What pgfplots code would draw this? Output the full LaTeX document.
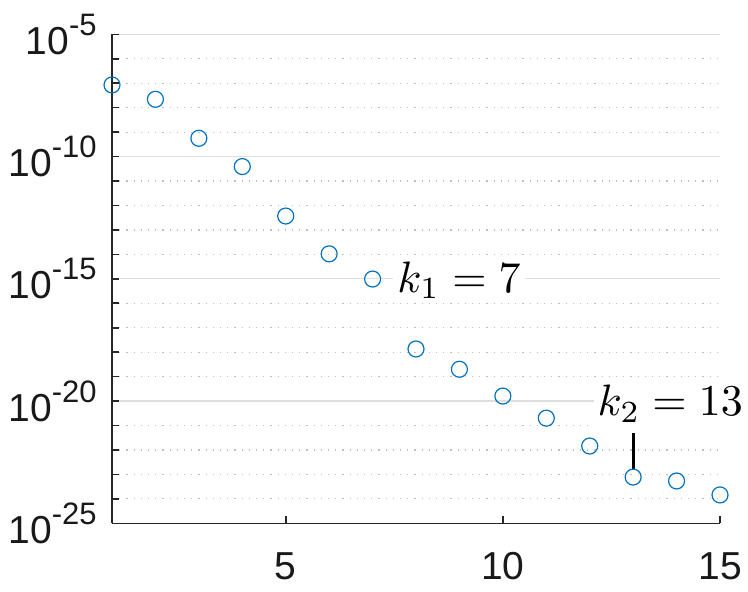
\documentclass[border=0pt]{standalone}
\usepackage{pgfplots}
\pgfplotsset{compat=1.18}
\usepackage{graphicx}
\usepackage{fontspec}
\newfontfamily\arial{Liberation Sans}
\definecolor{matblue}{RGB}{0,114,189}
% tick label with a raised exponent, set like the MATLAB labels
\newcommand\tl[1]{10\raisebox{9.5pt}{\fontsize{15.5}{16}\selectfont -#1}}
\begin{document}
\begin{tikzpicture}
\begin{axis}[
    scale only axis,
    width=304pt, height=244.5pt,
    ymode=log,
    xmin=1, xmax=15,
    ymin=1e-25, ymax=1e-5,
    axis lines*=left,
    axis line style={black!85, line width=0.8pt},
    tick align=inside,
    tick style={black!85, line width=0.8pt},
    major tick length=3.5pt, minor tick length=3.5pt,
    xtick={5,10,15}, xticklabels={5,10,15},
    ytick={1e-25,1e-20,1e-15,1e-10,1e-5},
    yticklabels={\tl{25},\tl{20},\tl{15},\tl{10},\tl{5}},
    minor ytick={1e-24,1e-23,1e-22,1e-21,1e-19,1e-18,1e-17,1e-16,
                 1e-14,1e-13,1e-12,1e-11,1e-9,1e-8,1e-7,1e-6},
    ymajorgrids=true, yminorgrids=true,
    major grid style={black!13, line width=0.6pt},
    minor grid style={black!25, line width=0.6pt, dash pattern=on 0.6pt off 3pt},
    xticklabel style={font=\arial\fontsize{19.5}{20}\selectfont, text=black!90, inner sep=0pt, yshift=-14.5pt},
    yticklabel style={font=\arial\fontsize{19.5}{20}\selectfont, text=black!90, inner sep=0pt, xshift=-7.5pt},
    clip=false,
  ]
\addplot[only marks, mark=o, mark size=4pt, color=matblue, mark options={line width=0.6pt}]
  coordinates {
  (1,8.5e-8) (2,2.2e-8) (3,5.6e-10) (4,3.9e-11) (5,3.7e-13)
  (6,1.05e-14) (7,9.8e-16) (8,1.35e-18) (9,2.0e-19) (10,1.6e-20)
  (11,2.0e-21) (12,1.45e-22) (13,7.8e-24) (14,5.4e-24) (15,1.45e-24)};
\addplot[black, line width=1.4pt, no marks] coordinates {(13,5.0e-22) (13,1.5e-23)};
\node[anchor=base west, fill=white, inner sep=2pt]
  at (axis cs:7.47,2.8e-16) {\scalebox{2.2}{$k_1 = 7$}};
\node[anchor=base west, fill=white, inner sep=2pt]
  at (axis cs:12.08,2.5e-21) {\scalebox{2.2}{$k_2 = 13$}};
\coordinate (O) at (rel axis cs:0,0);
\coordinate (E) at (rel axis cs:1,1);
\end{axis}
\pgfresetboundingbox
\path[use as bounding box] ([xshift=-56pt,yshift=-33.85pt]O) rectangle ([xshift=14pt,yshift=17.15pt]E);
\end{tikzpicture}
\end{document}
